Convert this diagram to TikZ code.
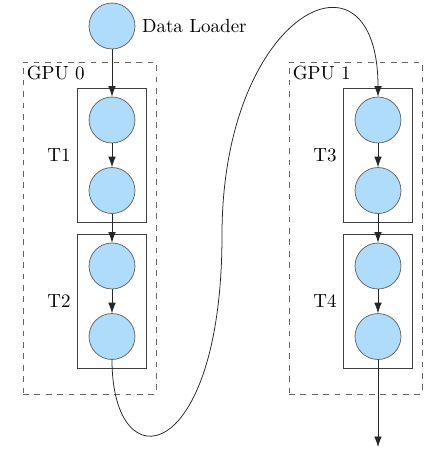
\documentclass[tikz,border=0pt]{standalone}
\usepackage{xcolor}
\usepackage{tikz}
\usetikzlibrary{arrows.meta,positioning,fit,calc}
\definecolor{cellblue}{RGB}{176,220,252}

\begin{document}
\begin{tikzpicture}[
  x=0.0185cm, y=-0.0185cm,
  node distance=4.4mm,
  cell/.style={circle, draw=black!60, fill=cellblue, minimum size=8.5mm, inner sep=0pt},
  taskbox/.style={draw=black!75, inner xsep=5.8pt, inner ysep=4.6pt},
  gpubox/.style={draw=black!60, dashed, inner sep=0pt},
  arrow/.style={-{Latex[length=5.5pt,width=4pt]}, black!85}
]
\useasboundingbox (0,0) rectangle (444,452);

% data loader
\node[cell] (dl) at (112,26) {};
\node[right=0pt of dl] (dltext) {Data Loader};

% GPU 0
\node[gpubox, fit={(23,62) (156,394)}] (gpu0) {};
\node[anchor=north west, inner sep=2pt] (gpu0text) at (gpu0.north west) {GPU 0};
\node[cell] (a1) at (112,120) {};
\node[cell, below=of a1] (a2) {};
\node[cell] (b1) at (112,266) {};
\node[cell, below=of b1] (b2) {};
\node[taskbox, fit=(a1)(a2)] (t1) {};
\node[taskbox, fit=(b1)(b2)] (t2) {};
\node[left=0pt of t1] (t1text) {T1};
\node[left=0pt of t2] (t2text) {T2};

% GPU 1
\node[gpubox, fit={(289,62) (422,394)}] (gpu1) {};
\node[anchor=north west, inner sep=2pt] (gpu1text) at (gpu1.north west) {GPU 1};
\node[cell] (c1) at (378,120) {};
\node[cell, below=of c1] (c2) {};
\node[cell] (d1) at (378,266) {};
\node[cell, below=of d1] (d2) {};
\node[taskbox, fit=(c1)(c2)] (t3) {};
\node[taskbox, fit=(d1)(d2)] (t4) {};
\node[left=0pt of t3] (t3text) {T3};
\node[left=0pt of t4] (t4text) {T4};

\coordinate (turn) at (222,235);
\coordinate (out) at (378,447);

\draw[arrow] (dl) -- (a1);
\draw[arrow] (a1) -- (a2);
\draw[arrow] (a2) -- (b1);
\draw[arrow] (b1) -- (b2);
\draw[arrow] (b2.south) .. controls (112,485) and (222,465) .. (turn)
  .. controls (222,10) and (378,-65) .. (c1.north);
\draw[arrow] (c1) -- (c2);
\draw[arrow] (c2) -- (d1);
\draw[arrow] (d1) -- (d2);
\draw[arrow] (d2) -- (out);
\end{tikzpicture}
\end{document}
